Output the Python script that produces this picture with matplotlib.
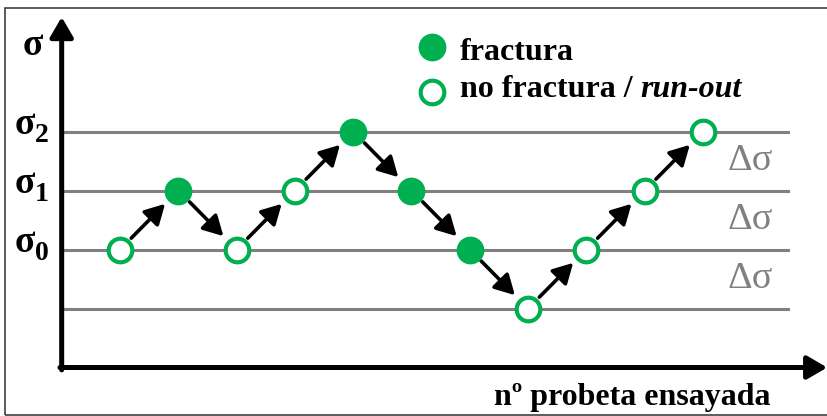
import numpy as np
import matplotlib
matplotlib.use('Agg')
import matplotlib.pyplot as plt

# staircase test: specimen number, stress level index, fracture result
specimen = np.arange(1, 12)
level = [0, 1, 0, 1, 2, 1, 0, -1, 0, 1, 2]
fractured = [False, True, False, False, True, True, True, False, False, False, False]

stress_levels = [-1, 0, 1, 2]
level_names = {0: '0', 1: '1', 2: '2'}
step_label = '\u0394\u03c3'

green = '#00B050'
grey = '#808080'
serif = 'Liberation Serif'

fig = plt.figure(figsize=(8.28, 4.16), dpi=100)
ax = fig.add_axes([0, 0, 1, 1])
ax.set_xlim(-1.058, 13.144)
ax.set_ylim(-2.822, 4.229)
ax.axis('off')

# horizontal stress levels
for s in stress_levels:
    ax.plot([0.02, 12.46], [s, s], color=grey, lw=2.2, zorder=1)

# step size labels between levels
for a, b in zip(stress_levels[:-1], stress_levels[1:]):
    ax.text(11.81, (a + b) / 2, step_label, color=grey, fontsize=27.5,
            family=serif, ha='center', va='center')

# axes drawn as arrows
ax.annotate('', xy=(0, 3.94), xytext=(0, -2.04),
            arrowprops=dict(arrowstyle='-|>,head_length=0.6,head_width=0.35',
                            color='black', lw=3.6, shrinkA=0, shrinkB=0,
                            mutation_scale=20))
ax.annotate('', xy=(13.13, -2.0), xytext=(-0.03, -2.0),
            arrowprops=dict(arrowstyle='-|>,head_length=0.6,head_width=0.35',
                            color='black', lw=3.6, shrinkA=0, shrinkB=0,
                            mutation_scale=20))

# arrows linking consecutive specimens
for i in range(len(specimen) - 1):
    ax.annotate('', xy=(specimen[i + 1], level[i + 1]),
                xytext=(specimen[i], level[i]),
                arrowprops=dict(arrowstyle='-|>,head_length=0.6,head_width=0.33',
                                color='black', lw=2.6, shrinkA=11.5,
                                shrinkB=13.5, mutation_scale=20), zorder=2)

# specimens
for x, y, f in zip(specimen, level, fractured):
    if f:
        ax.plot(x, y, 'o', ms=20, mfc=green, mec=green, mew=0, zorder=3)
    else:
        ax.plot(x, y, 'o', ms=17, mfc='white', mec=green, mew=3, zorder=3)

# y axis labels
ax.text(-0.664, 3.30, '\u03c3', fontsize=27, fontweight='bold', family=serif,
        ha='left', va='baseline')
for s, name in level_names.items():
    ax.text(-0.80, s - 0.035, '\u03c3', fontsize=27, fontweight='bold',
            family=serif, ha='left', va='baseline')
    ax.text(-0.458, s - 0.17, name, fontsize=20, fontweight='bold',
            family=serif, ha='left', va='baseline')

# x axis label
ax.text(9.78, -2.636, 'n\u00ba probeta ensayada', fontsize=23,
        fontweight='bold', family=serif, ha='center', va='baseline')

# key
ax.plot(6.35, 3.43, 'o', ms=20, mfc=green, mec=green, mew=0)
ax.plot(6.35, 2.67, 'o', ms=17, mfc='white', mec=green, mew=3)
ax.text(6.83, 3.21, 'fractura', fontsize=23, fontweight='bold',
        family=serif, ha='left', va='baseline')
t = ax.text(6.83, 2.47, 'no fractura / ', fontsize=23, fontweight='bold',
            family=serif, ha='left', va='bottom')
ax.annotate('run-out', xy=(1, 0), xycoords=t, fontsize=23,
            fontweight='bold', fontstyle='italic', family=serif,
            ha='left', va='bottom')

# frame
fig.add_artist(plt.Rectangle((5 / 828, 1 / 416), 1, 407 / 416,
                             transform=fig.transFigure, fill=False,
                             ec='#404040', lw=1.2))

fig.savefig('out.png', dpi=100)
